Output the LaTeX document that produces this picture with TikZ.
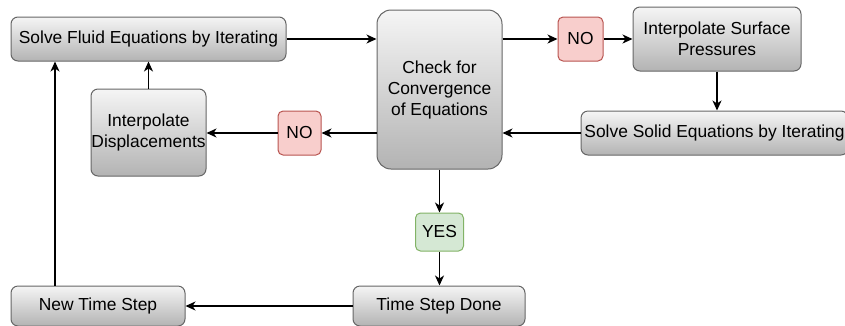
\documentclass[tikz,border=0pt]{standalone}
\usepackage{fontspec}
\setmainfont{Liberation Sans}
\usetikzlibrary{arrows.meta}
\definecolor{gtop}{HTML}{F5F5F5}
\definecolor{gbot}{HTML}{B3B3B3}
\definecolor{boxdraw}{HTML}{666666}
\definecolor{nofill}{HTML}{F8CECC}
\definecolor{nodraw}{HTML}{B85450}
\definecolor{yesfill}{HTML}{D5E8D4}
\definecolor{yesdraw}{HTML}{82B366}
\begin{document}
\begin{tikzpicture}[x=1pt,y=-1pt,
  box/.style={draw=boxdraw, rounded corners=7pt, top color=gtop, bottom color=gbot,
    font=\fontsize{17.4}{21}\selectfont, align=center, inner sep=0pt, line width=1pt},
  tag/.style={rounded corners=5pt, font=\fontsize{17.4}{21}\selectfont, inner sep=0pt, line width=1pt},
  notag/.style={tag, draw=nodraw, fill=nofill},
  yestag/.style={tag, draw=yesdraw, fill=yesfill},
  arr/.style={-{Stealth[length=10pt,width=9pt,inset=3pt]}, line width=1.3pt}]
\useasboundingbox (0,0) rectangle (845,325);
\node[box, minimum width=275pt, minimum height=44pt] (fluid) at (148.5,39) {Solve Fluid Equations by Iterating};
\node[box, minimum width=115pt, minimum height=87pt] (disp) at (148.5,132.5) {Interpolate\\Displacements};
\node[notag, minimum width=43pt, minimum height=44pt] (noL) at (299.5,133) {NO};
\node[box, rounded corners=14pt, minimum width=125pt, minimum height=159pt] (check) at (439.5,89.5) {Check for\\Convergence\\of Equations};
\node[notag, minimum width=45pt, minimum height=44pt] (noR) at (580.5,39) {NO};
\node[box, minimum width=168pt, minimum height=64pt] (isp) at (717,39) {Interpolate Surface\\Pressures};
\node[box, minimum width=267pt, minimum height=44pt] (solid) at (714.5,133) {Solve Solid Equations by Iterating};
\node[yestag, minimum width=48pt, minimum height=38pt] (yes) at (439.5,232) {YES};
\node[box, minimum width=174pt, minimum height=40pt] (newts) at (98,306) {New Time Step};
\node[box, minimum width=172pt, minimum height=40pt] (tsd) at (439,306) {Time Step Done};
\coordinate (lp) at (55,0);
\draw[arr] (fluid.east) -- (fluid.east -| check.west);
\draw[arr] (noR.west -| check.east) -- (noR.west);
\draw[arr] (noR.east) -- (isp.west);
\draw[arr] (isp.south) -- (isp.south |- solid.north);
\draw[arr] (solid.west) -- (solid.west -| check.east);
\draw[arr] (noL.east -| check.west) -- (noL.east);
\draw[arr] (noL.west) -- (noL.west -| disp.east);
\draw[arr] (disp.north) -- (disp.north |- fluid.south);
\draw[arr] (check.south) -- (yes.north);
\draw[arr] (yes.south) -- (yes.south |- tsd.north);
\draw[arr] (tsd.west) -- (tsd.west -| newts.east);
\draw[arr] (newts.north -| lp) -- (fluid.south -| lp);
\end{tikzpicture}
\end{document}
